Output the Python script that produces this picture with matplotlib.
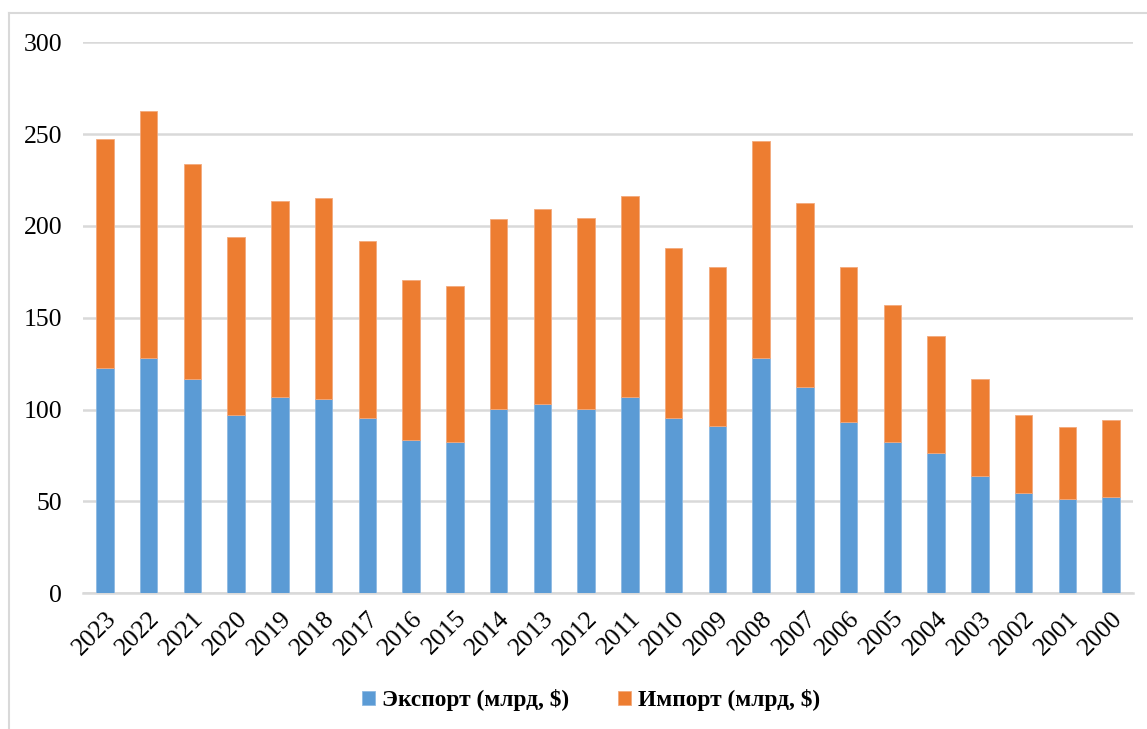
import matplotlib
matplotlib.use("Agg")
import matplotlib.pyplot as plt
from matplotlib.lines import Line2D
import numpy as np

years = ["2023", "2022", "2021", "2020", "2019", "2018", "2017", "2016",
         "2015", "2014", "2013", "2012", "2011", "2010", "2009", "2008",
         "2007", "2006", "2005", "2004", "2003", "2002", "2001", "2000"]
export_bn = [122.8, 127.9, 116.7, 96.9, 106.9, 105.6, 95.6, 83.4,
             82.5, 100.2, 102.9, 100.2, 107.0, 95.6, 91.2, 128.1,
             112.1, 93.2, 82.2, 76.2, 63.8, 54.6, 51.1, 52.6]
import_bn = [124.4, 134.7, 117.2, 97.3, 106.9, 109.8, 96.2, 87.0,
             84.8, 103.4, 106.2, 104.0, 109.3, 92.4, 86.5, 118.0,
             100.3, 84.5, 74.6, 63.7, 52.9, 42.3, 39.6, 41.6]
y_ticks = [0, 50, 100, 150, 200, 250, 300]
series_names = ["Экспорт (млрд, $)", "Импорт (млрд, $)"]

BLUE = "#5B9BD5"
ORANGE = "#ED7D31"
GRID = "#D9D9D9"

plt.rcParams["font.family"] = ["Liberation Serif", "DejaVu Serif"]

W, H = 1147, 729
fig = plt.figure(figsize=(W / 100, H / 100), dpi=100)
ax = fig.add_axes([83 / W, 1 - 593.2 / H, (1133 - 83) / W, (593.2 - 42.3) / H])

x = np.arange(len(years))
ax.bar(x, export_bn, width=0.4, color=BLUE, edgecolor="#8DB9E3",
       linewidth=0.6, label=series_names[0], zorder=3)
ax.bar(x, import_bn, width=0.4, bottom=export_bn, color=ORANGE,
       edgecolor="#F3A97C", linewidth=0.6, label=series_names[1], zorder=3)

ax.set_xlim(-0.5, len(years) - 0.5)
ax.set_ylim(0, 300)
ax.set_yticks(y_ticks)
ax.set_yticklabels([str(v) for v in y_ticks], fontsize=18.5)
ax.set_xticks(x)
ax.set_xticklabels(years, fontsize=18.5, rotation=45, ha="right",
                   rotation_mode="anchor")
ax.tick_params(axis="both", length=0)
ax.tick_params(axis="y", pad=15)
ax.tick_params(axis="x", pad=10)

ax.yaxis.grid(True, color=GRID, linewidth=1.8, zorder=0)
ax.set_axisbelow(True)
for side in ["left", "right", "top"]:
    ax.spines[side].set_visible(False)
ax.spines["bottom"].set_color(GRID)
ax.spines["bottom"].set_linewidth(1.8)

leg = fig.legend(loc="center", bbox_to_anchor=(591 / W, 1 - 700 / H),
                 ncol=2, frameon=False, handlelength=0.55, handleheight=0.55,
                 handletextpad=0.3, columnspacing=2.1,
                 prop={"family": "Liberation Serif", "weight": "bold",
                       "size": 16.8})

# outer chart frame (left and top edges visible)
fig.add_artist(Line2D([9 / W, 9 / W], [0, 1 - 13 / H], transform=fig.transFigure,
                      color=GRID, linewidth=1.5))
fig.add_artist(Line2D([9 / W, 1], [1 - 13 / H, 1 - 13 / H],
                      transform=fig.transFigure, color=GRID, linewidth=1.5))

fig.savefig("out.png", dpi=100, facecolor="white")
